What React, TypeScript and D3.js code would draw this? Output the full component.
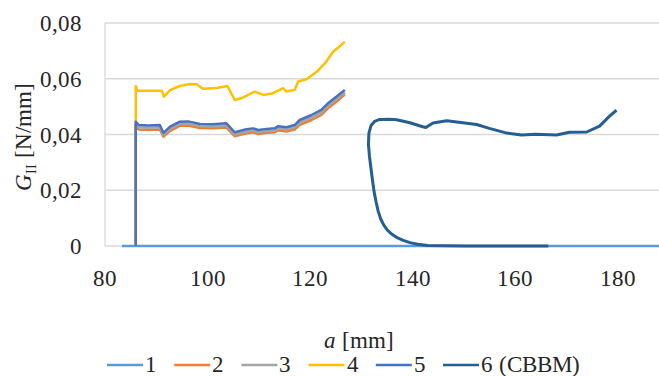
import React from "react";
import * as d3 from "d3";

// crack length a [mm] and G_II [N/mm]
const series1A = [83.3, 196];
const series1G = [0, 0];

const beamA = [86, 86, 86.6, 88.5, 90.7, 91.4, 92.7, 94.6, 96.2, 98.5, 101, 103.7, 105.3, 107.6, 108.9, 109.9, 111.5, 113.1, 113.8, 115.4, 117, 118, 120.3, 122.2, 123.5, 125.2, 126.8];
const series2G = [0, 0.0428, 0.0418, 0.0416, 0.0418, 0.0392, 0.0413, 0.0431, 0.0432, 0.0423, 0.0422, 0.0425, 0.0394, 0.0404, 0.0408, 0.0402, 0.0406, 0.0408, 0.0415, 0.0411, 0.0418, 0.0435, 0.0452, 0.047, 0.0494, 0.0518, 0.0544];
const series3G = [0, 0.0436, 0.0426, 0.0424, 0.0426, 0.0398, 0.042, 0.0438, 0.0439, 0.043, 0.0429, 0.0432, 0.04, 0.0411, 0.0414, 0.0408, 0.0412, 0.0414, 0.0422, 0.0418, 0.0426, 0.0443, 0.0461, 0.0479, 0.0503, 0.0527, 0.0552];
const series5G = [0, 0.0446, 0.0434, 0.0432, 0.0434, 0.0406, 0.0428, 0.0446, 0.0447, 0.0438, 0.0437, 0.044, 0.0408, 0.0419, 0.0422, 0.0416, 0.042, 0.0422, 0.043, 0.0426, 0.0434, 0.0452, 0.047, 0.0488, 0.0512, 0.0536, 0.056];

const series4A = [86, 86, 86.3, 91.1, 91.5, 92.7, 94.6, 96.6, 97.9, 99.1, 101.8, 103.9, 105.3, 107, 109.2, 110.9, 112.8, 114.8, 115.4, 117, 117.7, 119.3, 121.3, 122.9, 124.5, 125.4, 126.8];
const series4G = [0, 0.0574, 0.0557, 0.0557, 0.0536, 0.0559, 0.0574, 0.0581, 0.058, 0.0564, 0.0567, 0.0574, 0.0524, 0.0533, 0.0554, 0.0542, 0.0548, 0.0566, 0.0554, 0.056, 0.059, 0.0598, 0.0625, 0.0655, 0.0697, 0.071, 0.0733];

const cbbmA = [166.5, 150, 143, 141, 139.5, 138.2, 137, 136, 135.1, 134.4, 133.8, 133.3, 132.9, 132.5, 132.2, 131.9, 131.6, 131.4, 131.5, 131.9, 132.6, 133.6, 135.5, 136.9, 139.5, 142, 142.6, 144, 146.7, 149.8, 152.5, 155, 158.4, 161.3, 164, 168.1, 170.6, 174, 176.5, 178.4, 179.8];
const cbbmG = [0, 0, 0.0002, 0.0006, 0.0012, 0.002, 0.003, 0.0042, 0.0057, 0.0075, 0.0097, 0.0125, 0.0158, 0.0195, 0.0235, 0.0278, 0.0322, 0.0365, 0.0405, 0.0432, 0.0447, 0.0454, 0.0455, 0.0453, 0.0442, 0.0428, 0.0425, 0.0441, 0.0449, 0.0442, 0.0436, 0.0422, 0.0405, 0.0398, 0.0401, 0.0398, 0.0408, 0.0409, 0.043, 0.0465, 0.0487];

const seriesNames = ["1", "2", "3", "4", "5", "6 (CBBM)"];
const seriesColors = ["#5B9BD5", "#ED7D31", "#A5A5A5", "#FFC000", "#4472C4", "#255E91"];
const xTicks = [80, 100, 120, 140, 160, 180];
const yTicks = [0, 0.02, 0.04, 0.06, 0.08];

const W = 659;
const H = 376;

// local() face so the serif is picked up by name
const fontCss = `
@font-face { font-family: "ChartSerif"; font-style: normal; src: local("Liberation Serif"), local("LiberationSerif"), local("Liberation Serif Regular"), local("LiberationSerif-Regular"); }
@font-face { font-family: "ChartSerif"; font-style: italic; src: local("Liberation Serif Italic"), local("LiberationSerif-Italic"); }
.lbl { font-family: "ChartSerif", "Liberation Serif", "Times New Roman", serif; font-size: 23px; fill: #262626; }
`;

function zip(a: number[], g: number[]): [number, number][] {
  return a.map((v, i) => [v, g[i]] as [number, number]);
}

export default function App() {
  const x = d3.scaleLinear().domain([80, 200]).range([105, 720]);
  const y = d3.scaleLinear().domain([0, 0.08]).range([246, 23]);

  const line = d3
    .line<[number, number]>()
    .x(d => x(d[0]))
    .y(d => y(d[1]));

  const all: [number, number][][] = [
    zip(series1A, series1G),
    zip(beamA, series2G),
    zip(beamA, series3G),
    zip(series4A, series4G),
    zip(beamA, series5G),
    zip(cbbmA, cbbmG)
  ];

  return (
    <svg
      width={W}
      height={H}
      style={{ position: "absolute", left: 0, top: 0, background: "#fff" }}
    >
      <style>{fontCss}</style>

      {/* gridlines */}
      {yTicks.map(t => (
        <line key={t} x1={x(80)} x2={W} y1={y(t)} y2={y(t)} stroke="#D9D9D9" strokeWidth={1.3} />
      ))}
      <line x1={x(80)} x2={x(80)} y1={y(0.08)} y2={y(0)} stroke="#D9D9D9" strokeWidth={1.3} />

      {/* tick labels */}
      {yTicks.map(t => (
        <text key={t} className="lbl" x={82} y={y(t) + 8} textAnchor="end">
          {t === 0 ? "0" : t.toFixed(2).replace(".", ",")}
        </text>
      ))}
      {xTicks.map(t => (
        <text key={t} className="lbl" x={x(t)} y={286} textAnchor="middle">
          {t}
        </text>
      ))}

      {/* series */}
      {all.map((d, i) => (
        <path
          key={i}
          d={line(d) || ""}
          fill="none"
          stroke={seriesColors[i]}
          strokeWidth={i === 5 ? 3 : 2.5}
          strokeLinejoin="round"
        />
      ))}

      {/* axis titles */}
      <text className="lbl" transform="translate(31, 137) rotate(-90)" textAnchor="middle">
        <tspan fontStyle="italic">G</tspan>
        <tspan dy={5} style={{ fontSize: 14 }}>II</tspan>
        <tspan dy={-5}> [N/mm]</tspan>
      </text>
      <text className="lbl" x={359} y={348} textAnchor="middle">
        <tspan fontStyle="italic">a</tspan>
        <tspan> [mm]</tspan>
      </text>

      {/* legend */}
      {seriesNames.map((n, i) => (
        <g key={n} transform={`translate(${107 + 67.2 * i}, 365)`}>
          <line x1={0} x2={36} stroke={seriesColors[i]} strokeWidth={2.5} />
          <text className="lbl" x={38} y={7}>
            {n}
          </text>
        </g>
      ))}
    </svg>
  );
}
